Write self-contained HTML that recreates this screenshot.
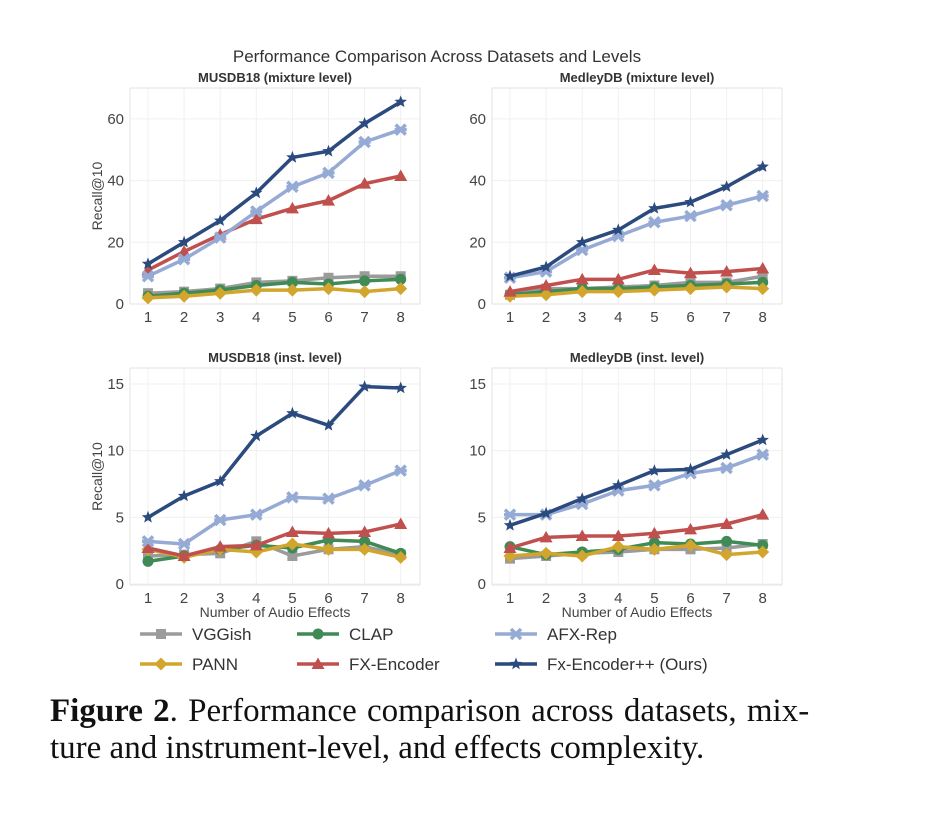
<!DOCTYPE html>
<html><head><meta charset="utf-8"><style>
body{margin:0;background:#fff;width:930px;height:832px;overflow:hidden}
svg{position:absolute;left:0;top:0}
.cap{position:absolute;left:50px;top:693px;font-family:"Liberation Serif",serif;font-size:33px;line-height:37px;color:#111;width:880px;white-space:nowrap}
.cap span.l1{word-spacing:2px}
</style></head><body>
<svg id="s" width="930" height="690" xmlns="http://www.w3.org/2000/svg" font-family="Liberation Sans, sans-serif"></svg>
<div class="cap"><span class="l1"><b>Figure 2</b>. Performance comparison across datasets, mix-</span><br>ture and instrument-level, and effects complexity.</div>
<script>
const S=document.getElementById('s');let h='';
const C={v:'#9b9b9b',c:'#3f8a55',p:'#d2a52c',f:'#c0504d',a:'#95aad4',x:'#2b4a7e'};
h+='<text x="437" y="62" text-anchor="middle" font-size="17" fill="#333">Performance Comparison Across Datasets and Levels</text>';
function mk(t,x,y,col){
 if(t=='v')return `<rect x="${x-5}" y="${y-5}" width="10" height="10" fill="${col}"/>`;
 if(t=='c')return `<circle cx="${x}" cy="${y}" r="5.5" fill="${col}"/>`;
 if(t=='p')return `<polygon points="${x},${y-6.5} ${x+6.5},${y} ${x},${y+6.5} ${x-6.5},${y}" fill="${col}"/>`;
 if(t=='f')return `<polygon points="${x},${y-6.5} ${x+6.5},${y+5} ${x-6.5},${y+5}" fill="${col}"/>`;
 if(t=='a')return `<g stroke="${col}" stroke-width="3.5"><line x1="${x-5}" y1="${y-5}" x2="${x+5}" y2="${y+5}"/><line x1="${x-5}" y1="${y+5}" x2="${x+5}" y2="${y-5}"/><line x1="${x-6}" y1="${y}" x2="${x+6}" y2="${y}"/></g>`;
 let p=[];for(let i=0;i<10;i++){let r=i%2?2.8:6.5,a=-Math.PI/2+i*Math.PI/5;p.push((x+r*Math.cos(a)).toFixed(1)+','+(y+r*Math.sin(a)).toFixed(1));}
 return `<polygon points="${p.join(' ')}" fill="${col}"/>`;
}
function panel(L,T,B,y0,ymax,ticks,title,d,ylab,xlab){
 const R=L+290,x1=L+18,dx=36.1,k=(y0-T)/ymax;
 const X=i=>x1+i*dx,Y=v=>y0-v*k;
 h+=`<text x="${L+145}" y="${T-6}" text-anchor="middle" font-size="13" font-weight="bold" fill="#333">${title}</text>`;
 for(let i=0;i<8;i++)h+=`<line x1="${X(i)}" y1="${T}" x2="${X(i)}" y2="${B}" stroke="#f0f0f0"/>`;
 ticks.forEach(t=>{h+=`<line x1="${L}" y1="${Y(t)}" x2="${R}" y2="${Y(t)}" stroke="#f0f0f0"/><text x="${L-6}" y="${Y(t)+5}" text-anchor="end" font-size="15" fill="#444">${t}</text>`});
 h+=`<rect x="${L}" y="${T}" width="290" height="${B-T}" fill="none" stroke="#e3e3e3"/>`;
 for(let i=0;i<8;i++)h+=`<text x="${X(i)}" y="${B+18}" text-anchor="middle" font-size="15" fill="#444">${i+1}</text>`;
 if(ylab)h+=`<text transform="translate(${L-28},${(T+B)/2}) rotate(-90)" text-anchor="middle" font-size="14" fill="#444">Recall@10</text>`;
 if(xlab)h+=`<text x="${L+145}" y="${B+32}" text-anchor="middle" font-size="14" fill="#444">Number of Audio Effects</text>`;
 for(const key of ['v','c','p','f','a','x']){const v=d[key];
  h+=`<polyline fill="none" stroke="${C[key]}" stroke-width="3.5" stroke-linejoin="round" points="${v.map((a,i)=>X(i)+','+Y(a)).join(' ')}"/>`;
  v.forEach((a,i)=>h+=mk(key,X(i),Y(a),C[key]));}
}
panel(130,88,304,304,70,[0,20,40,60],'MUSDB18 (mixture level)',{
 v:[3.5,4,5,7,7.5,8.5,9,9],c:[2.5,3.5,4.5,6,7,6.5,7.5,8],p:[2,2.5,3.5,4.5,4.5,5,4,5],
 f:[11,17,22.5,27.5,31,33.5,39,41.5],a:[9,14.5,21.5,30,38,42.5,52.5,56.5],x:[13,20,27,36,47.5,49.5,58.5,65.5]},1,0);
panel(492,88,304,304,70,[0,20,40,60],'MedleyDB (mixture level)',{
 v:[3,5,5,5.5,6,7,7,9],c:[3,4,5,5,5.5,6,6.5,7],p:[2.5,3,4,4,4.5,5,5.5,5],
 f:[4,6,8,8,11,10,10.5,11.5],a:[8.5,10.5,17.5,22,26.5,28.5,32,35],x:[9,12,20,24,31,33,38,44.5]},0,0);
panel(130,368,585,584,16.2,[0,5,10,15],'MUSDB18 (inst. level)',{
 v:[2.1,2.2,2.3,3.2,2.1,2.6,2.8,2.2],c:[1.7,2.1,2.6,2.9,2.7,3.3,3.2,2.3],p:[2.6,2.0,2.6,2.4,3.0,2.6,2.6,2.0],
 f:[2.7,2.1,2.8,2.9,3.9,3.8,3.9,4.5],a:[3.2,3.0,4.8,5.2,6.5,6.4,7.4,8.5],x:[5,6.6,7.7,11.1,12.8,11.9,14.8,14.7]},1,1);
panel(492,368,585,584,16.2,[0,5,10,15],'MedleyDB (inst. level)',{
 v:[1.9,2.1,2.3,2.4,2.6,2.6,2.7,3.0],c:[2.8,2.2,2.4,2.6,3.1,3.0,3.2,2.9],p:[2.1,2.3,2.1,2.8,2.6,2.9,2.2,2.4],
 f:[2.7,3.5,3.6,3.6,3.8,4.1,4.5,5.2],a:[5.2,5.2,6.0,7.0,7.4,8.3,8.7,9.7],x:[4.4,5.3,6.4,7.4,8.5,8.6,9.7,10.8]},0,1);
const lg=[['v','VGGish',140,634],['c','CLAP',297,634],['a','AFX-Rep',495,634],['p','PANN',140,664],['f','FX-Encoder',297,664],['x','Fx-Encoder++ (Ours)',495,664]];
lg.forEach(([k,t,x,y])=>{h+=`<line x1="${x}" y1="${y}" x2="${x+42}" y2="${y}" stroke="${C[k]}" stroke-width="3.5"/>`+mk(k,x+21,y,C[k])+`<text x="${x+52}" y="${y+6}" font-size="17" fill="#333">${t}</text>`});
S.innerHTML=h;
</script>
</body></html>
